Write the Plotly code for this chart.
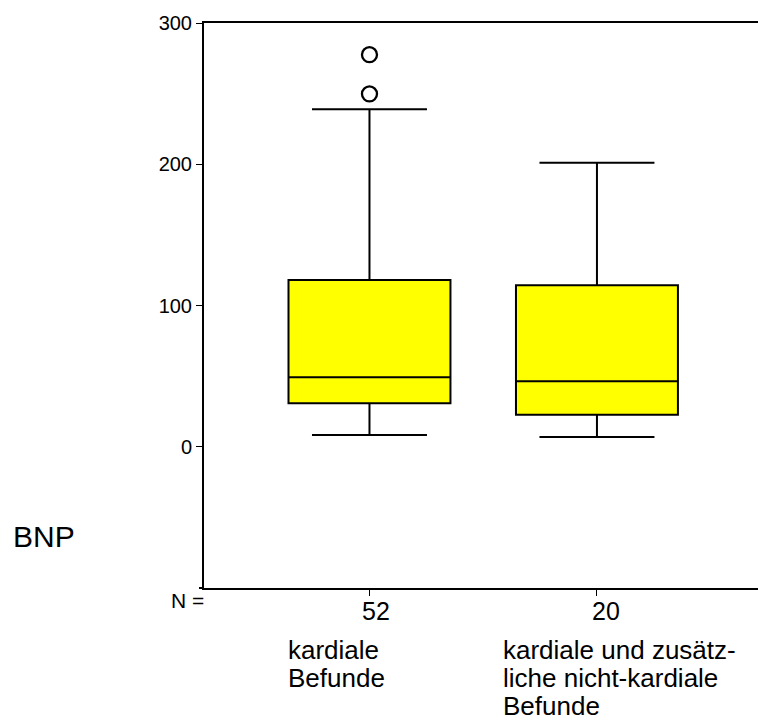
import plotly.graph_objects as go

# Data
groups = ["kardiale Befunde", "kardiale und zusätzliche nicht-kardiale Befunde"]
n_labels = ["52", "20"]
positions = [1, 2]
q1 = [30.8, 22.7]
median = [49.2, 46.3]
q3 = [118.0, 114.3]
lower = [8.4, 6.9]
upper = [239.0, 201.0]
outlier_x = [1, 1]
outlier_y = [277.6, 249.8]
ytick_vals = [0, 100, 200, 300]
group_lines = [["kardiale", "Befunde"],
               ["kardiale und zusätz-", "liche nicht-kardiale", "Befunde"]]

FONT = "Liberation Sans, Arial, sans-serif"

fig = go.Figure()
for i in range(2):
    fig.add_trace(go.Box(
        x=[positions[i]], q1=[q1[i]], median=[median[i]], q3=[q3[i]],
        lowerfence=[lower[i]], upperfence=[upper[i]],
        width=0.712, whiskerwidth=0.71,
        fillcolor="#FFFF00", line=dict(color="black", width=2),
        boxpoints=False, showlegend=False, hoverinfo="skip",
    ))

fig.add_trace(go.Scatter(
    x=outlier_x, y=outlier_y, mode="markers",
    marker=dict(symbol="circle-open", size=15, color="black", line=dict(width=2.3, color="black")),
    showlegend=False, hoverinfo="skip",
))

fig.update_layout(
    width=758, height=722,
    margin=dict(l=204, r=0, t=23, b=134),
    paper_bgcolor="white", plot_bgcolor="white",
    font=dict(family=FONT, color="black"),
    xaxis=dict(
        range=[0.2725, 2.708], tickvals=positions, showticklabels=False,
        showline=True, linecolor="black", linewidth=2, mirror=True,
        ticks="outside", ticklen=6, tickwidth=1, tickcolor="black",
        showgrid=False, zeroline=False,
    ),
    yaxis=dict(
        range=[-100, 300], tickvals=ytick_vals,
        showline=True, linecolor="black", linewidth=2, mirror=False,
        ticks="outside", ticklen=6, tickwidth=1, tickcolor="black",
        showgrid=False, zeroline=False, tickfont=dict(size=20),
    ),
)

def px_x(p):
    return (p - 204) / 554.0

def px_y(p):
    return (588 - p) / 565.0

ann = [
    ("N =", px_x(206), px_y(600), "right", 21),
    ("BNP", px_x(11), px_y(536), "left", 30),
]
# N counts under the ticks (slightly right of the tick, as in the source)
n_x = [376, 606]
for lab, xx in zip(n_labels, n_x):
    ann.append((lab, px_x(xx), px_y(611), "center", 25))
# group labels
block_x = [286, 501]
line_y = [649.5, 677.5, 705.5]
for lines, bx in zip(group_lines, block_x):
    for j, t in enumerate(lines):
        ann.append((t, px_x(bx), px_y(line_y[j]), "left", 26))

for text, x, y, xa, size in ann:
    fig.add_annotation(text=text, x=x, y=y, xref="paper", yref="paper",
                       xanchor=xa, yanchor="middle", showarrow=False,
                       font=dict(size=size, family=FONT, color="black"))

fig.add_shape(type="line", xref="paper", yref="paper", x0=-0.009, x1=0.0, y0=0, y1=0,
              line=dict(color="black", width=2))

fig.write_html("out.html")
